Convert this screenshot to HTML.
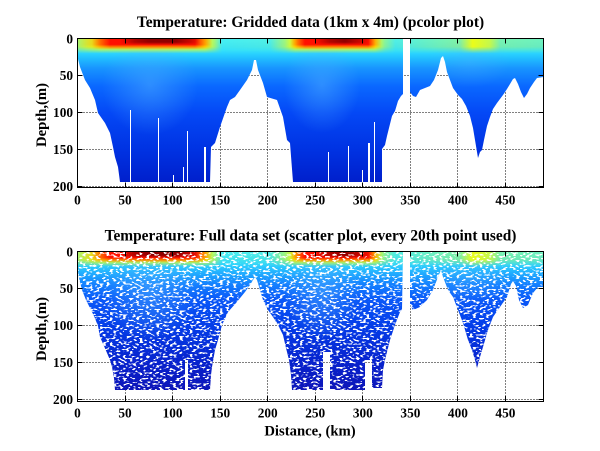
<!DOCTYPE html>
<html>
<head>
<meta charset="utf-8">
<style>
html,body{margin:0;padding:0;background:#fff;}
svg{display:block;}
text{font-family:"Liberation Serif","Times New Roman",serif;font-weight:bold;fill:#000;}
.tk{font-size:13.3px;}
.tt{font-size:14.7px;}
.ttl{font-size:15.4px;}
</style>
</head>
<body>
<svg width="600" height="451" viewBox="0 0 600 451" xmlns="http://www.w3.org/2000/svg">
<defs>
  <linearGradient id="bodyT" gradientUnits="userSpaceOnUse" x1="0" y1="38.5" x2="0" y2="187.5">
    <stop offset="0" stop-color="#40f0ff"/>
    <stop offset="0.08" stop-color="#30e0ff"/>
    <stop offset="0.13" stop-color="#22c0ff"/>
    <stop offset="0.2" stop-color="#1894ff"/>
    <stop offset="0.32" stop-color="#0a68ff"/>
    <stop offset="0.5" stop-color="#0448f6"/>
    <stop offset="0.75" stop-color="#0032e2"/>
    <stop offset="1" stop-color="#001cc8"/>
  </linearGradient>
  <linearGradient id="bodyB" gradientUnits="userSpaceOnUse" x1="0" y1="251.5" x2="0" y2="401.5">
    <stop offset="0" stop-color="#40f0ff"/>
    <stop offset="0.08" stop-color="#30d8ff"/>
    <stop offset="0.14" stop-color="#22b0ff"/>
    <stop offset="0.22" stop-color="#1480ff"/>
    <stop offset="0.32" stop-color="#0a58f8"/>
    <stop offset="0.5" stop-color="#043ce8"/>
    <stop offset="0.75" stop-color="#0822cc"/>
    <stop offset="1" stop-color="#1010b0"/>
  </linearGradient>

  <linearGradient id="yel" gradientUnits="userSpaceOnUse" x1="77.5" y1="0" x2="543.5" y2="0">
    <stop offset="0" stop-color="#ffff00" stop-opacity="0.55"/>
    <stop offset="0.0225" stop-color="#ffff00" stop-opacity="0.8"/>
    <stop offset="0.048" stop-color="#ffff00" stop-opacity="1"/>
    <stop offset="0.274" stop-color="#ffff00" stop-opacity="1"/>
    <stop offset="0.295" stop-color="#ffff00" stop-opacity="0.5"/>
    <stop offset="0.31" stop-color="#ffff00" stop-opacity="0.05"/>
    <stop offset="0.413" stop-color="#ffff00" stop-opacity="0.1"/>
    <stop offset="0.445" stop-color="#ffff00" stop-opacity="0.5"/>
    <stop offset="0.467" stop-color="#ffff00" stop-opacity="1"/>
    <stop offset="0.638" stop-color="#ffff00" stop-opacity="1"/>
    <stop offset="0.659" stop-color="#ffff00" stop-opacity="0.4"/>
    <stop offset="0.682" stop-color="#ffff00" stop-opacity="0.1"/>
    <stop offset="0.736" stop-color="#ffff00" stop-opacity="0.2"/>
    <stop offset="0.821" stop-color="#ffff00" stop-opacity="0.35"/>
    <stop offset="0.848" stop-color="#ffff00" stop-opacity="0.9"/>
    <stop offset="0.885" stop-color="#ffff00" stop-opacity="0.7"/>
    <stop offset="0.907" stop-color="#ffff00" stop-opacity="0.3"/>
    <stop offset="1" stop-color="#ffff00" stop-opacity="0.25"/>
  </linearGradient>
  <linearGradient id="red" gradientUnits="userSpaceOnUse" x1="77.5" y1="0" x2="543.5" y2="0">
    <stop offset="0" stop-color="#ff1000" stop-opacity="0"/>
    <stop offset="0.031" stop-color="#ff1000" stop-opacity="0.15"/>
    <stop offset="0.048" stop-color="#ff1000" stop-opacity="0.6"/>
    <stop offset="0.07" stop-color="#ff1000" stop-opacity="1"/>
    <stop offset="0.252" stop-color="#ff1000" stop-opacity="1"/>
    <stop offset="0.274" stop-color="#ff1000" stop-opacity="0.4"/>
    <stop offset="0.289" stop-color="#ff1000" stop-opacity="0"/>
    <stop offset="0.456" stop-color="#ff1000" stop-opacity="0"/>
    <stop offset="0.473" stop-color="#ff1000" stop-opacity="0.6"/>
    <stop offset="0.488" stop-color="#ff1000" stop-opacity="1"/>
    <stop offset="0.624" stop-color="#ff1000" stop-opacity="1"/>
    <stop offset="0.64" stop-color="#ff1000" stop-opacity="0.3"/>
    <stop offset="0.653" stop-color="#ff1000" stop-opacity="0"/>
    <stop offset="1" stop-color="#ff1000" stop-opacity="0"/>
  </linearGradient>
  <linearGradient id="dkr" gradientUnits="userSpaceOnUse" x1="77.5" y1="0" x2="543.5" y2="0">
    <stop offset="0" stop-color="#900000" stop-opacity="0"/>
    <stop offset="0.091" stop-color="#900000" stop-opacity="0"/>
    <stop offset="0.123" stop-color="#900000" stop-opacity="0.7"/>
    <stop offset="0.156" stop-color="#900000" stop-opacity="1"/>
    <stop offset="0.209" stop-color="#900000" stop-opacity="1"/>
    <stop offset="0.241" stop-color="#900000" stop-opacity="0.5"/>
    <stop offset="0.263" stop-color="#900000" stop-opacity="0"/>
    <stop offset="0.509" stop-color="#900000" stop-opacity="0"/>
    <stop offset="0.542" stop-color="#900000" stop-opacity="0.7"/>
    <stop offset="0.574" stop-color="#900000" stop-opacity="1"/>
    <stop offset="0.606" stop-color="#900000" stop-opacity="0.5"/>
    <stop offset="0.627" stop-color="#900000" stop-opacity="0"/>
    <stop offset="1" stop-color="#900000" stop-opacity="0"/>
  </linearGradient>

  <linearGradient id="vfadeG" x1="0" y1="0" x2="0" y2="1">
    <stop offset="0" stop-color="#fff"/>
    <stop offset="0.55" stop-color="#fff"/>
    <stop offset="1" stop-color="#000"/>
  </linearGradient>
  <mask id="vfade" maskContentUnits="objectBoundingBox">
    <rect x="0" y="0" width="1" height="1" fill="url(#vfadeG)"/>
  </mask>

  <radialGradient id="lite">
    <stop offset="0" stop-color="#50b0ff" stop-opacity="0.5"/>
    <stop offset="1" stop-color="#50b0ff" stop-opacity="0"/>
  </radialGradient>

  <filter id="spk" filterUnits="userSpaceOnUse" x="0" y="240" width="600" height="170" color-interpolation-filters="sRGB">
    <feTurbulence type="fractalNoise" baseFrequency="0.3 0.55" numOctaves="1" seed="7"/>
    <feColorMatrix type="matrix" values="0 0 0 0 1  0 0 0 0 1  0 0 0 0 1  25 0 0 0 -14"/>
  </filter>

  <clipPath id="clipT">
    <polygon points="77.5,38.5 77.5,57 80,67 85,80 90,88 95,100 98,113 105,123 110,133 113,147 115,157 118,167 120,182 210,182 211,147 215,143 220,127 227,107 230,100 235,97 240,90 247,80 252,70 254,60 256,60 258,70 263,83 267,97 277,100 283,117 287,140 290,143 293,182 382,182 382,149 385,145 387,136 392,116 395,111 398,101 401,96 403,94 403,38.5"/>
    <polygon points="410,38.5 410,92 413,96 416,97 420,90 425,88 430,86 434,80 438,70 441,58 443,56 445,62 447,72 450,80 453,88 458,95 462,99 466,106 470,116 473,128 475,140 477,152 478,158 480,152 482,150 484,140 487,126 490,117 493,109 497,103 500,99 503,95 507,89 510,84 513,79 515,78 518,84 521,92 524,98 527,94 530,88 534,82 537,78 543.5,77 543.5,38.5"/>
  </clipPath>
  <clipPath id="clipB">
    <polygon points="77.5,251.5 77.5,268 79,278 82,290 86,300 90,308 94,316 98,326 100,337 104,346 107,353 110,360 112,367 114,378 115,390 185,390 185,360 188,360 188,390 210,390 211,375 212,367 215,350 218,340 222,325 228,312 236,303 245,292 250,285 253,280 255,277 257,280 260,290 263,300 268,310 273,317 278,325 283,335 286,348 289,360 291,375 292,390 323,390 323,352 330,352 330,390 365,390 365,360 372,360 372,388 382,388 383,370 385,360 390,340 395,325 400,312 402,310 403,251.5"/>
    <polygon points="410,251.5 410,305 413,310 420,307 427,300 433,290 438,277 441,270 443,277 448,290 453,297 458,310 463,323 468,340 472,350 475,360 477,368 480,357 483,347 488,330 493,317 500,307 507,297 511,284 513,281 516,286 519,300 523,308 528,305 533,293 538,287 543.5,287 543.5,251.5"/>
  </clipPath>
</defs>

<rect x="0" y="0" width="600" height="451" fill="#fff"/>

<!-- ================= TOP PLOT ================= -->
<g stroke="#000" stroke-width="1" stroke-dasharray="1 2" fill="none">
  <line x1="77.5" y1="75.5" x2="543.5" y2="75.5"/>
  <line x1="77.5" y1="112.5" x2="543.5" y2="112.5"/>
  <line x1="77.5" y1="149.5" x2="543.5" y2="149.5"/>
  <line x1="77.5" y1="186.5" x2="543.5" y2="186.5"/>
  <line x1="125.5" y1="38.5" x2="125.5" y2="187.5"/>
  <line x1="172.5" y1="38.5" x2="172.5" y2="187.5"/>
  <line x1="220.5" y1="38.5" x2="220.5" y2="187.5"/>
  <line x1="267.5" y1="38.5" x2="267.5" y2="187.5"/>
  <line x1="315.5" y1="38.5" x2="315.5" y2="187.5"/>
  <line x1="362.5" y1="38.5" x2="362.5" y2="187.5"/>
  <line x1="410.5" y1="38.5" x2="410.5" y2="187.5"/>
  <line x1="457.5" y1="38.5" x2="457.5" y2="187.5"/>
  <line x1="505.5" y1="38.5" x2="505.5" y2="187.5"/>
</g>

<g clip-path="url(#clipT)">
  <rect x="77" y="38" width="467" height="150" fill="url(#bodyT)"/>
  <ellipse cx="150" cy="85" rx="48" ry="50" fill="url(#lite)"/>
  <ellipse cx="322" cy="85" rx="38" ry="48" fill="url(#lite)"/>
  <ellipse cx="470" cy="62" rx="40" ry="26" fill="url(#lite)" opacity="0.6"/>
  <rect x="77" y="38.5" width="467" height="15" fill="url(#yel)" mask="url(#vfade)"/>
  <rect x="77" y="38.5" width="467" height="11" fill="url(#red)" mask="url(#vfade)"/>
  <rect x="77" y="38.5" width="467" height="6.5" fill="url(#dkr)" mask="url(#vfade)"/>
</g>
<g fill="#fff">
  <rect x="130" y="110" width="1" height="72"/>
  <rect x="158" y="118" width="1" height="64"/>
  <rect x="173" y="175" width="1" height="7"/>
  <rect x="183" y="167" width="1" height="15"/>
  <rect x="187" y="131" width="1" height="51"/>
  <rect x="204" y="147" width="2" height="35"/>
  <rect x="328" y="152" width="1" height="30"/>
  <rect x="348" y="146" width="1" height="36"/>
  <rect x="362" y="170" width="1" height="12"/>
  <rect x="368" y="143" width="2" height="39"/>
  <rect x="374" y="122" width="1" height="60"/>
</g>

<rect x="77.5" y="38.5" width="466" height="149" fill="none" stroke="#000" stroke-width="1"/>
<g stroke="#000" stroke-width="1">
  <line x1="77.5" y1="75.5" x2="82.5" y2="75.5"/>
  <line x1="77.5" y1="112.5" x2="82.5" y2="112.5"/>
  <line x1="77.5" y1="149.5" x2="82.5" y2="149.5"/>
  <line x1="77.5" y1="186.5" x2="82.5" y2="186.5"/>
  <line x1="543.5" y1="75.5" x2="538.5" y2="75.5"/>
  <line x1="543.5" y1="112.5" x2="538.5" y2="112.5"/>
  <line x1="543.5" y1="149.5" x2="538.5" y2="149.5"/>
  <line x1="543.5" y1="186.5" x2="538.5" y2="186.5"/>
  <line x1="125.5" y1="187.5" x2="125.5" y2="182.5"/>
  <line x1="172.5" y1="187.5" x2="172.5" y2="182.5"/>
  <line x1="220.5" y1="187.5" x2="220.5" y2="182.5"/>
  <line x1="267.5" y1="187.5" x2="267.5" y2="182.5"/>
  <line x1="315.5" y1="187.5" x2="315.5" y2="182.5"/>
  <line x1="362.5" y1="187.5" x2="362.5" y2="182.5"/>
  <line x1="410.5" y1="187.5" x2="410.5" y2="182.5"/>
  <line x1="457.5" y1="187.5" x2="457.5" y2="182.5"/>
  <line x1="505.5" y1="187.5" x2="505.5" y2="182.5"/>
  <line x1="125.5" y1="38.5" x2="125.5" y2="43.5"/>
  <line x1="172.5" y1="38.5" x2="172.5" y2="43.5"/>
  <line x1="220.5" y1="38.5" x2="220.5" y2="43.5"/>
  <line x1="267.5" y1="38.5" x2="267.5" y2="43.5"/>
  <line x1="315.5" y1="38.5" x2="315.5" y2="43.5"/>
  <line x1="362.5" y1="38.5" x2="362.5" y2="43.5"/>
  <line x1="410.5" y1="38.5" x2="410.5" y2="43.5"/>
  <line x1="457.5" y1="38.5" x2="457.5" y2="43.5"/>
  <line x1="505.5" y1="38.5" x2="505.5" y2="43.5"/>
</g>

<text class="ttl" x="310.5" y="27" text-anchor="middle">Temperature: Gridded data (1km x 4m) (pcolor plot)</text>
<g text-anchor="end">
  <text class="tk" x="73" y="43.5">0</text>
  <text class="tk" x="73" y="80">50</text>
  <text class="tk" x="73" y="117">100</text>
  <text class="tk" x="73" y="154">150</text>
  <text class="tk" x="73" y="191">200</text>
</g>
<g text-anchor="middle">
  <text class="tk" x="77.5" y="204.5">0</text>
  <text class="tk" x="125" y="204.5">50</text>
  <text class="tk" x="172.6" y="204.5">100</text>
  <text class="tk" x="220.2" y="204.5">150</text>
  <text class="tk" x="267.7" y="204.5">200</text>
  <text class="tk" x="315.2" y="204.5">250</text>
  <text class="tk" x="362.8" y="204.5">300</text>
  <text class="tk" x="410.4" y="204.5">350</text>
  <text class="tk" x="457.9" y="204.5">400</text>
  <text class="tk" x="505.4" y="204.5">450</text>
</g>
<text class="tt" transform="translate(46,115) rotate(-90)" text-anchor="middle">Depth,(m)</text>

<!-- ================= BOTTOM PLOT ================= -->
<g stroke="#000" stroke-width="1" stroke-dasharray="1 2" fill="none">
  <line x1="77.5" y1="288.5" x2="543.5" y2="288.5"/>
  <line x1="77.5" y1="325.5" x2="543.5" y2="325.5"/>
  <line x1="77.5" y1="362.5" x2="543.5" y2="362.5"/>
  <line x1="77.5" y1="399.5" x2="543.5" y2="399.5"/>
  <line x1="125.5" y1="251.5" x2="125.5" y2="401.5"/>
  <line x1="172.5" y1="251.5" x2="172.5" y2="401.5"/>
  <line x1="220.5" y1="251.5" x2="220.5" y2="401.5"/>
  <line x1="267.5" y1="251.5" x2="267.5" y2="401.5"/>
  <line x1="315.5" y1="251.5" x2="315.5" y2="401.5"/>
  <line x1="362.5" y1="251.5" x2="362.5" y2="401.5"/>
  <line x1="410.5" y1="251.5" x2="410.5" y2="401.5"/>
  <line x1="457.5" y1="251.5" x2="457.5" y2="401.5"/>
  <line x1="505.5" y1="251.5" x2="505.5" y2="401.5"/>
</g>

<g clip-path="url(#clipB)">
  <rect x="77" y="251" width="467" height="151" fill="url(#bodyB)"/>
  <ellipse cx="150" cy="292" rx="48" ry="50" fill="url(#lite)"/>
  <ellipse cx="322" cy="292" rx="38" ry="48" fill="url(#lite)"/>
  <ellipse cx="470" cy="280" rx="40" ry="26" fill="url(#lite)" opacity="0.6"/>
  <rect x="77" y="251.5" width="467" height="15" fill="url(#yel)" mask="url(#vfade)"/>
  <rect x="77" y="251.5" width="467" height="11" fill="url(#red)" mask="url(#vfade)"/>
  <rect x="77" y="251.5" width="467" height="6.5" fill="url(#dkr)" mask="url(#vfade)"/>
  <rect x="77" y="251" width="467" height="151" fill="#fff" filter="url(#spk)"/>
</g>

<rect x="77.5" y="251.5" width="466" height="150" fill="none" stroke="#000" stroke-width="1"/>
<g stroke="#000" stroke-width="1">
  <line x1="77.5" y1="288.5" x2="82.5" y2="288.5"/>
  <line x1="77.5" y1="325.5" x2="82.5" y2="325.5"/>
  <line x1="77.5" y1="362.5" x2="82.5" y2="362.5"/>
  <line x1="77.5" y1="399.5" x2="82.5" y2="399.5"/>
  <line x1="543.5" y1="288.5" x2="538.5" y2="288.5"/>
  <line x1="543.5" y1="325.5" x2="538.5" y2="325.5"/>
  <line x1="543.5" y1="362.5" x2="538.5" y2="362.5"/>
  <line x1="543.5" y1="399.5" x2="538.5" y2="399.5"/>
  <line x1="125.5" y1="401.5" x2="125.5" y2="396.5"/>
  <line x1="172.5" y1="401.5" x2="172.5" y2="396.5"/>
  <line x1="220.5" y1="401.5" x2="220.5" y2="396.5"/>
  <line x1="267.5" y1="401.5" x2="267.5" y2="396.5"/>
  <line x1="315.5" y1="401.5" x2="315.5" y2="396.5"/>
  <line x1="362.5" y1="401.5" x2="362.5" y2="396.5"/>
  <line x1="410.5" y1="401.5" x2="410.5" y2="396.5"/>
  <line x1="457.5" y1="401.5" x2="457.5" y2="396.5"/>
  <line x1="505.5" y1="401.5" x2="505.5" y2="396.5"/>
  <line x1="125.5" y1="251.5" x2="125.5" y2="256.5"/>
  <line x1="172.5" y1="251.5" x2="172.5" y2="256.5"/>
  <line x1="220.5" y1="251.5" x2="220.5" y2="256.5"/>
  <line x1="267.5" y1="251.5" x2="267.5" y2="256.5"/>
  <line x1="315.5" y1="251.5" x2="315.5" y2="256.5"/>
  <line x1="362.5" y1="251.5" x2="362.5" y2="256.5"/>
  <line x1="410.5" y1="251.5" x2="410.5" y2="256.5"/>
  <line x1="457.5" y1="251.5" x2="457.5" y2="256.5"/>
  <line x1="505.5" y1="251.5" x2="505.5" y2="256.5"/>
</g>

<text class="ttl" x="310.5" y="240.5" text-anchor="middle">Temperature: Full data set (scatter plot, every 20th point used)</text>
<g text-anchor="end">
  <text class="tk" x="73" y="256.5">0</text>
  <text class="tk" x="73" y="293">50</text>
  <text class="tk" x="73" y="330">100</text>
  <text class="tk" x="73" y="367">150</text>
  <text class="tk" x="73" y="404">200</text>
</g>
<g text-anchor="middle">
  <text class="tk" x="77.5" y="417.5">0</text>
  <text class="tk" x="125" y="417.5">50</text>
  <text class="tk" x="172.6" y="417.5">100</text>
  <text class="tk" x="220.2" y="417.5">150</text>
  <text class="tk" x="267.7" y="417.5">200</text>
  <text class="tk" x="315.2" y="417.5">250</text>
  <text class="tk" x="362.8" y="417.5">300</text>
  <text class="tk" x="410.4" y="417.5">350</text>
  <text class="tk" x="457.9" y="417.5">400</text>
  <text class="tk" x="505.4" y="417.5">450</text>
</g>
<text class="tt" transform="translate(46,329) rotate(-90)" text-anchor="middle">Depth,(m)</text>
<text class="tt" x="310" y="435.5" text-anchor="middle">Distance, (km)</text>
</svg>
</body>
</html>
